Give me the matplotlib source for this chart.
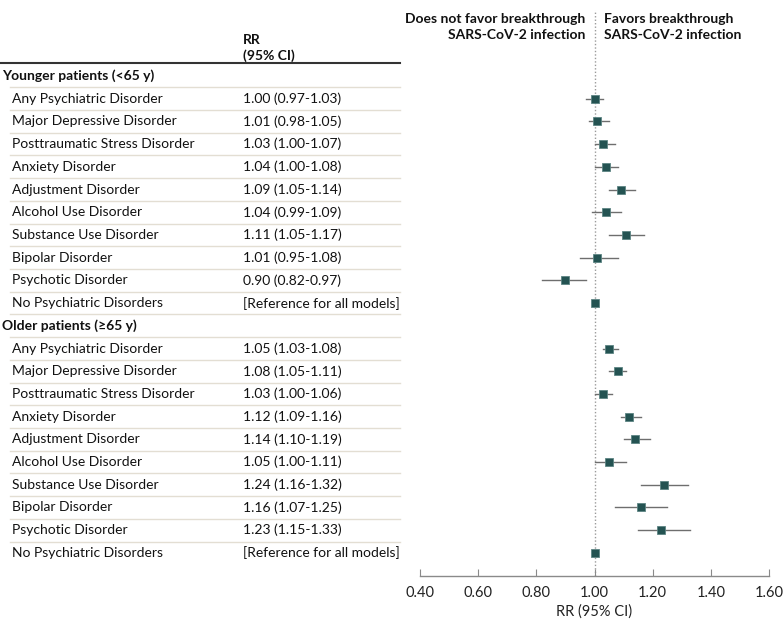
import matplotlib
matplotlib.use("Agg")
import matplotlib.pyplot as plt
import matplotlib.transforms as mtransforms

plt.rcParams['font.family'] = ['Lato', 'DejaVu Sans']

disorders = ["Any Psychiatric Disorder", "Major Depressive Disorder",
             "Posttraumatic Stress Disorder", "Anxiety Disorder",
             "Adjustment Disorder", "Alcohol Use Disorder",
             "Substance Use Disorder", "Bipolar Disorder",
             "Psychotic Disorder", "No Psychiatric Disorders"]
groups = ["Younger patients (<65 y)", "Older patients (\u226565 y)"]

# RR, lower, upper (None = reference group)
young_rr = [1.00, 1.01, 1.03, 1.04, 1.09, 1.04, 1.11, 1.01, 0.90, 1.00]
young_lo = [0.97, 0.98, 1.00, 1.00, 1.05, 0.99, 1.05, 0.95, 0.82, None]
young_hi = [1.03, 1.05, 1.07, 1.08, 1.14, 1.09, 1.17, 1.08, 0.97, None]
old_rr = [1.05, 1.08, 1.03, 1.12, 1.14, 1.05, 1.24, 1.16, 1.23, 1.00]
old_lo = [1.03, 1.05, 1.00, 1.09, 1.10, 1.00, 1.16, 1.07, 1.15, None]
old_hi = [1.08, 1.11, 1.06, 1.16, 1.19, 1.11, 1.32, 1.25, 1.33, None]

xticks = [0.40, 0.60, 0.80, 1.00, 1.20, 1.40, 1.60]

W, H = 783, 628
fig = plt.figure(figsize=(W / 100, H / 100), dpi=100)
# plot area in pixels: x 420..769, y 0..576
ax = fig.add_axes([420 / W, (H - 576) / H, (769 - 420) / W, 576 / H])
ax.set_xlim(0.4, 1.6)
row0_px, step_px = 76, 22.71
ax.set_ylim((576 - row0_px) / step_px, -row0_px / step_px)

for s in ["top", "right", "left"]:
    ax.spines[s].set_visible(False)
ax.spines["bottom"].set_color("#8a8a8a")
ax.spines["bottom"].set_linewidth(1.0)
ax.set_yticks([])
ax.set_xticks(xticks)
ax.set_xticklabels([f"{t:.2f}" for t in xticks], fontsize=10.5, color="#222222")
ax.tick_params(axis="x", direction="in", length=5, color="#8a8a8a", pad=7)
ax.set_xlabel("RR (95% CI)", fontsize=10.5, color="#222222", labelpad=3)

ax.axvline(1.0, ymin=0, ymax=(576 - 10) / 576, color="#9a9a9a",
           linestyle=(0, (1, 1.5)), linewidth=1.0, zorder=0)

tr = mtransforms.blended_transform_factory(fig.transFigure, ax.transData)
fs = 10
txt_col = "#111111"
mark_col = "#245352"

row = 0
for gi, (g, rr, lo, hi) in enumerate([(groups[0], young_rr, young_lo, young_hi),
                                      (groups[1], old_rr, old_lo, old_hi)]):
    if gi > 0:
        ax.plot([10 / W, 400 / W], [row - 0.5, row - 0.5], transform=tr,
                color="#e3ded3", linewidth=1.0, clip_on=False)
    ax.text(2 / W, row, g, transform=tr, fontsize=fs, fontweight="bold",
            color=txt_col, va="center", ha="left", clip_on=False)
    for name, r, l, h in zip(disorders, rr, lo, hi):
        # separator above this row
        ax.plot([10 / W, 400 / W], [row + 0.5, row + 0.5], transform=tr,
                color="#e3ded3", linewidth=1.0, clip_on=False)
        row += 1
        ax.text(12 / W, row, name, transform=tr, fontsize=fs, color=txt_col,
                va="center", ha="left", clip_on=False)
        if l is None:
            label = "[Reference for all models]"
        else:
            label = f"{r:.2f} ({l:.2f}-{h:.2f})"
            ax.plot([l, h], [row, row], color="#6e6e6e", linewidth=1.0, zorder=2)
        ax.text(243 / W, row, label, transform=tr, fontsize=fs, color=txt_col,
                va="center", ha="left", clip_on=False)
        ax.plot(r, row, marker="s", markersize=5.8, color=mark_col,
                markeredgecolor="#5d8584", markeredgewidth=0.6, zorder=3)
    row += 1

# column header
fig.text(243 / W, 1 - 40 / H, "RR", fontsize=fs, fontweight="bold",
         color=txt_col, va="center", ha="left")
fig.text(243 / W, 1 - 56 / H, "(95% CI)", fontsize=fs, fontweight="bold",
         color=txt_col, va="center", ha="left")
fig.add_artist(plt.Line2D([0, 400 / W], [1 - 63 / H, 1 - 63 / H],
                          color="#333333", linewidth=1.5))

fig.text(585 / W, 1 - 27 / H, "Does not favor breakthrough\nSARS-CoV-2 infection",
         fontsize=fs, fontweight="bold", color=txt_col, va="center", ha="right",
         linespacing=1.35, multialignment="right")
fig.text(604 / W, 1 - 27 / H, "Favors breakthrough\nSARS-CoV-2 infection",
         fontsize=fs, fontweight="bold", color=txt_col, va="center", ha="left",
         linespacing=1.35)

fig.savefig("out.png", dpi=100)
